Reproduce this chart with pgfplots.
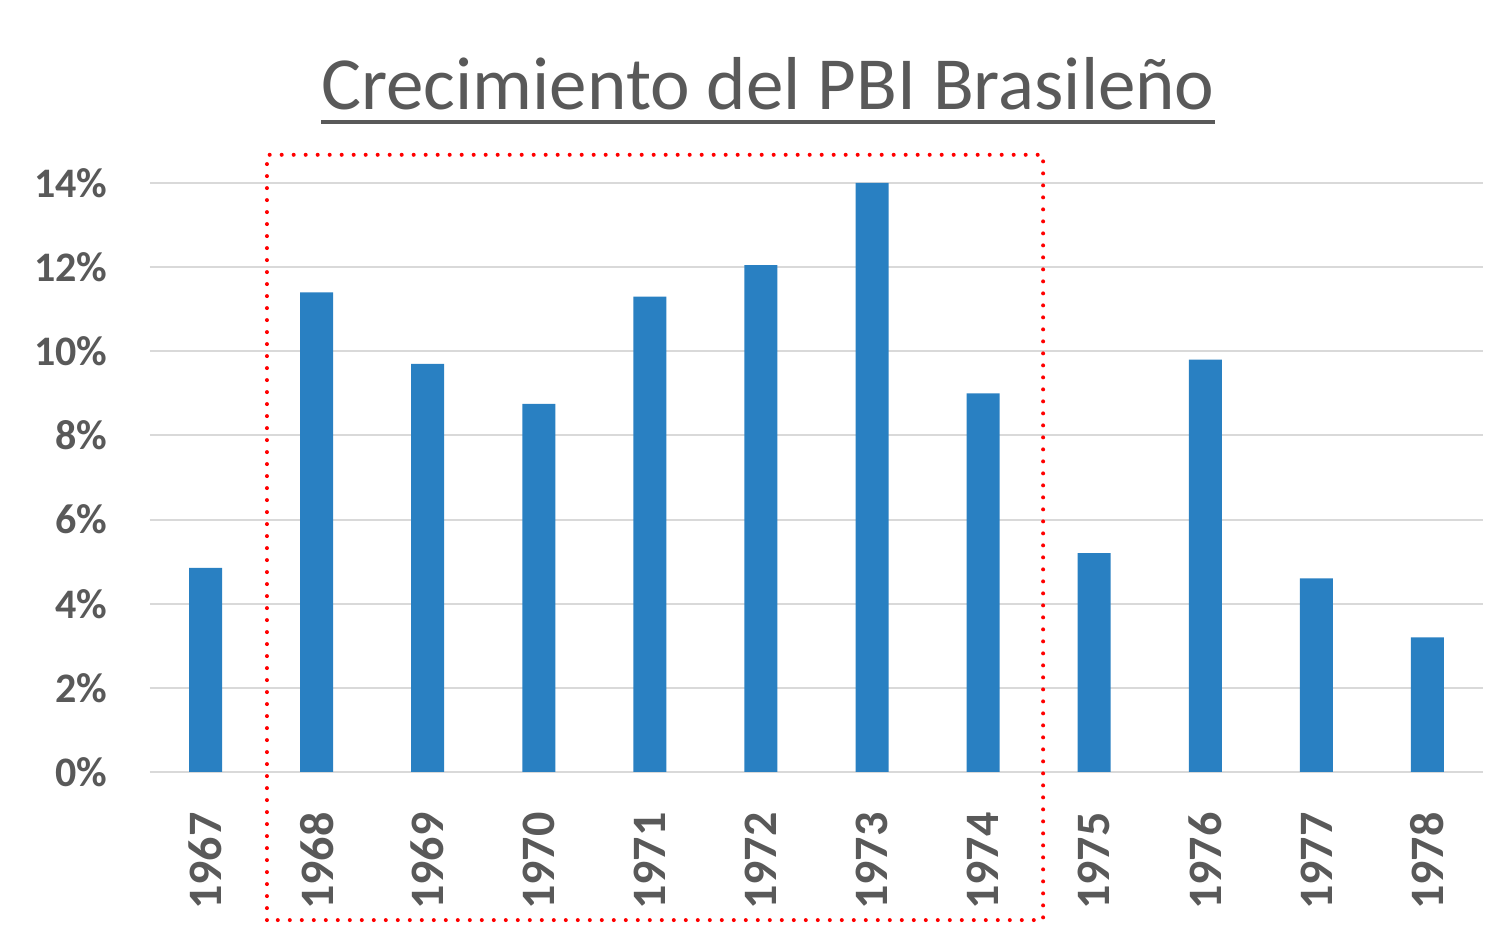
\documentclass[border=0pt]{standalone}
\usepackage{pgfplots}
\pgfplotsset{compat=1.18}
\usepackage{fontspec}
\setmainfont{Carlito}
\definecolor{barblue}{RGB}{41,128,194}
\definecolor{txtgray}{RGB}{89,89,89}
\definecolor{gridgray}{RGB}{217,217,217}
\begin{document}
\begin{tikzpicture}
\useasboundingbox (-75pt,-78.5pt) rectangle (673pt,386pt);
\begin{axis}[
  at={(0,0)}, anchor=south west,
  scale only axis,
  width=666.5pt, height=294.5pt,
  xmin=-0.5, xmax=11.5, ymin=0, ymax=14,
  clip=false,
  axis line style={draw=none},
  tick style={draw=none},
  ymajorgrids, grid style={gridgray, line width=1pt},
  ytick={0,2,4,6,8,10,12,14},
  yticklabel={\pgfmathprintnumber{\tick}\%},
  yticklabel style={font=\fontsize{21}{24}\selectfont\bfseries, text=txtgray, inner sep=0pt, xshift=-21pt},
  xtick=data,
  xticklabels={1967,1968,1969,1970,1971,1972,1973,1974,1975,1976,1977,1978},
  xticklabel style={font=\fontsize{24}{28}\selectfont\bfseries, text=txtgray, inner sep=0pt, yshift=-20pt, rotate=90, anchor=east},
  /pgf/number format/assume math mode=true,
]
\addplot[ybar, bar width=16.5pt, fill=barblue, draw=none] coordinates {
(0,4.85) (1,11.4) (2,9.7) (3,8.75) (4,11.3) (5,12.05) (6,14.0) (7,9.0) (8,5.2) (9,9.8) (10,4.6) (11,3.2)};
\draw[red, line width=2pt, line cap=round, dash pattern=on 0pt off 6pt]
  (axis cs:0.553,-3.52) rectangle (axis cs:7.54,14.67);
\end{axis}
\node[anchor=base, inner sep=0pt, text=txtgray, font=\fontsize{37.5}{42}\selectfont] (t) at (309pt,331pt) {Crecimiento del PBI Brasileño};
\draw[txtgray, line width=2pt] ([yshift=-6pt]t.base west) -- ([yshift=-6pt]t.base east);
\end{tikzpicture}
\end{document}
